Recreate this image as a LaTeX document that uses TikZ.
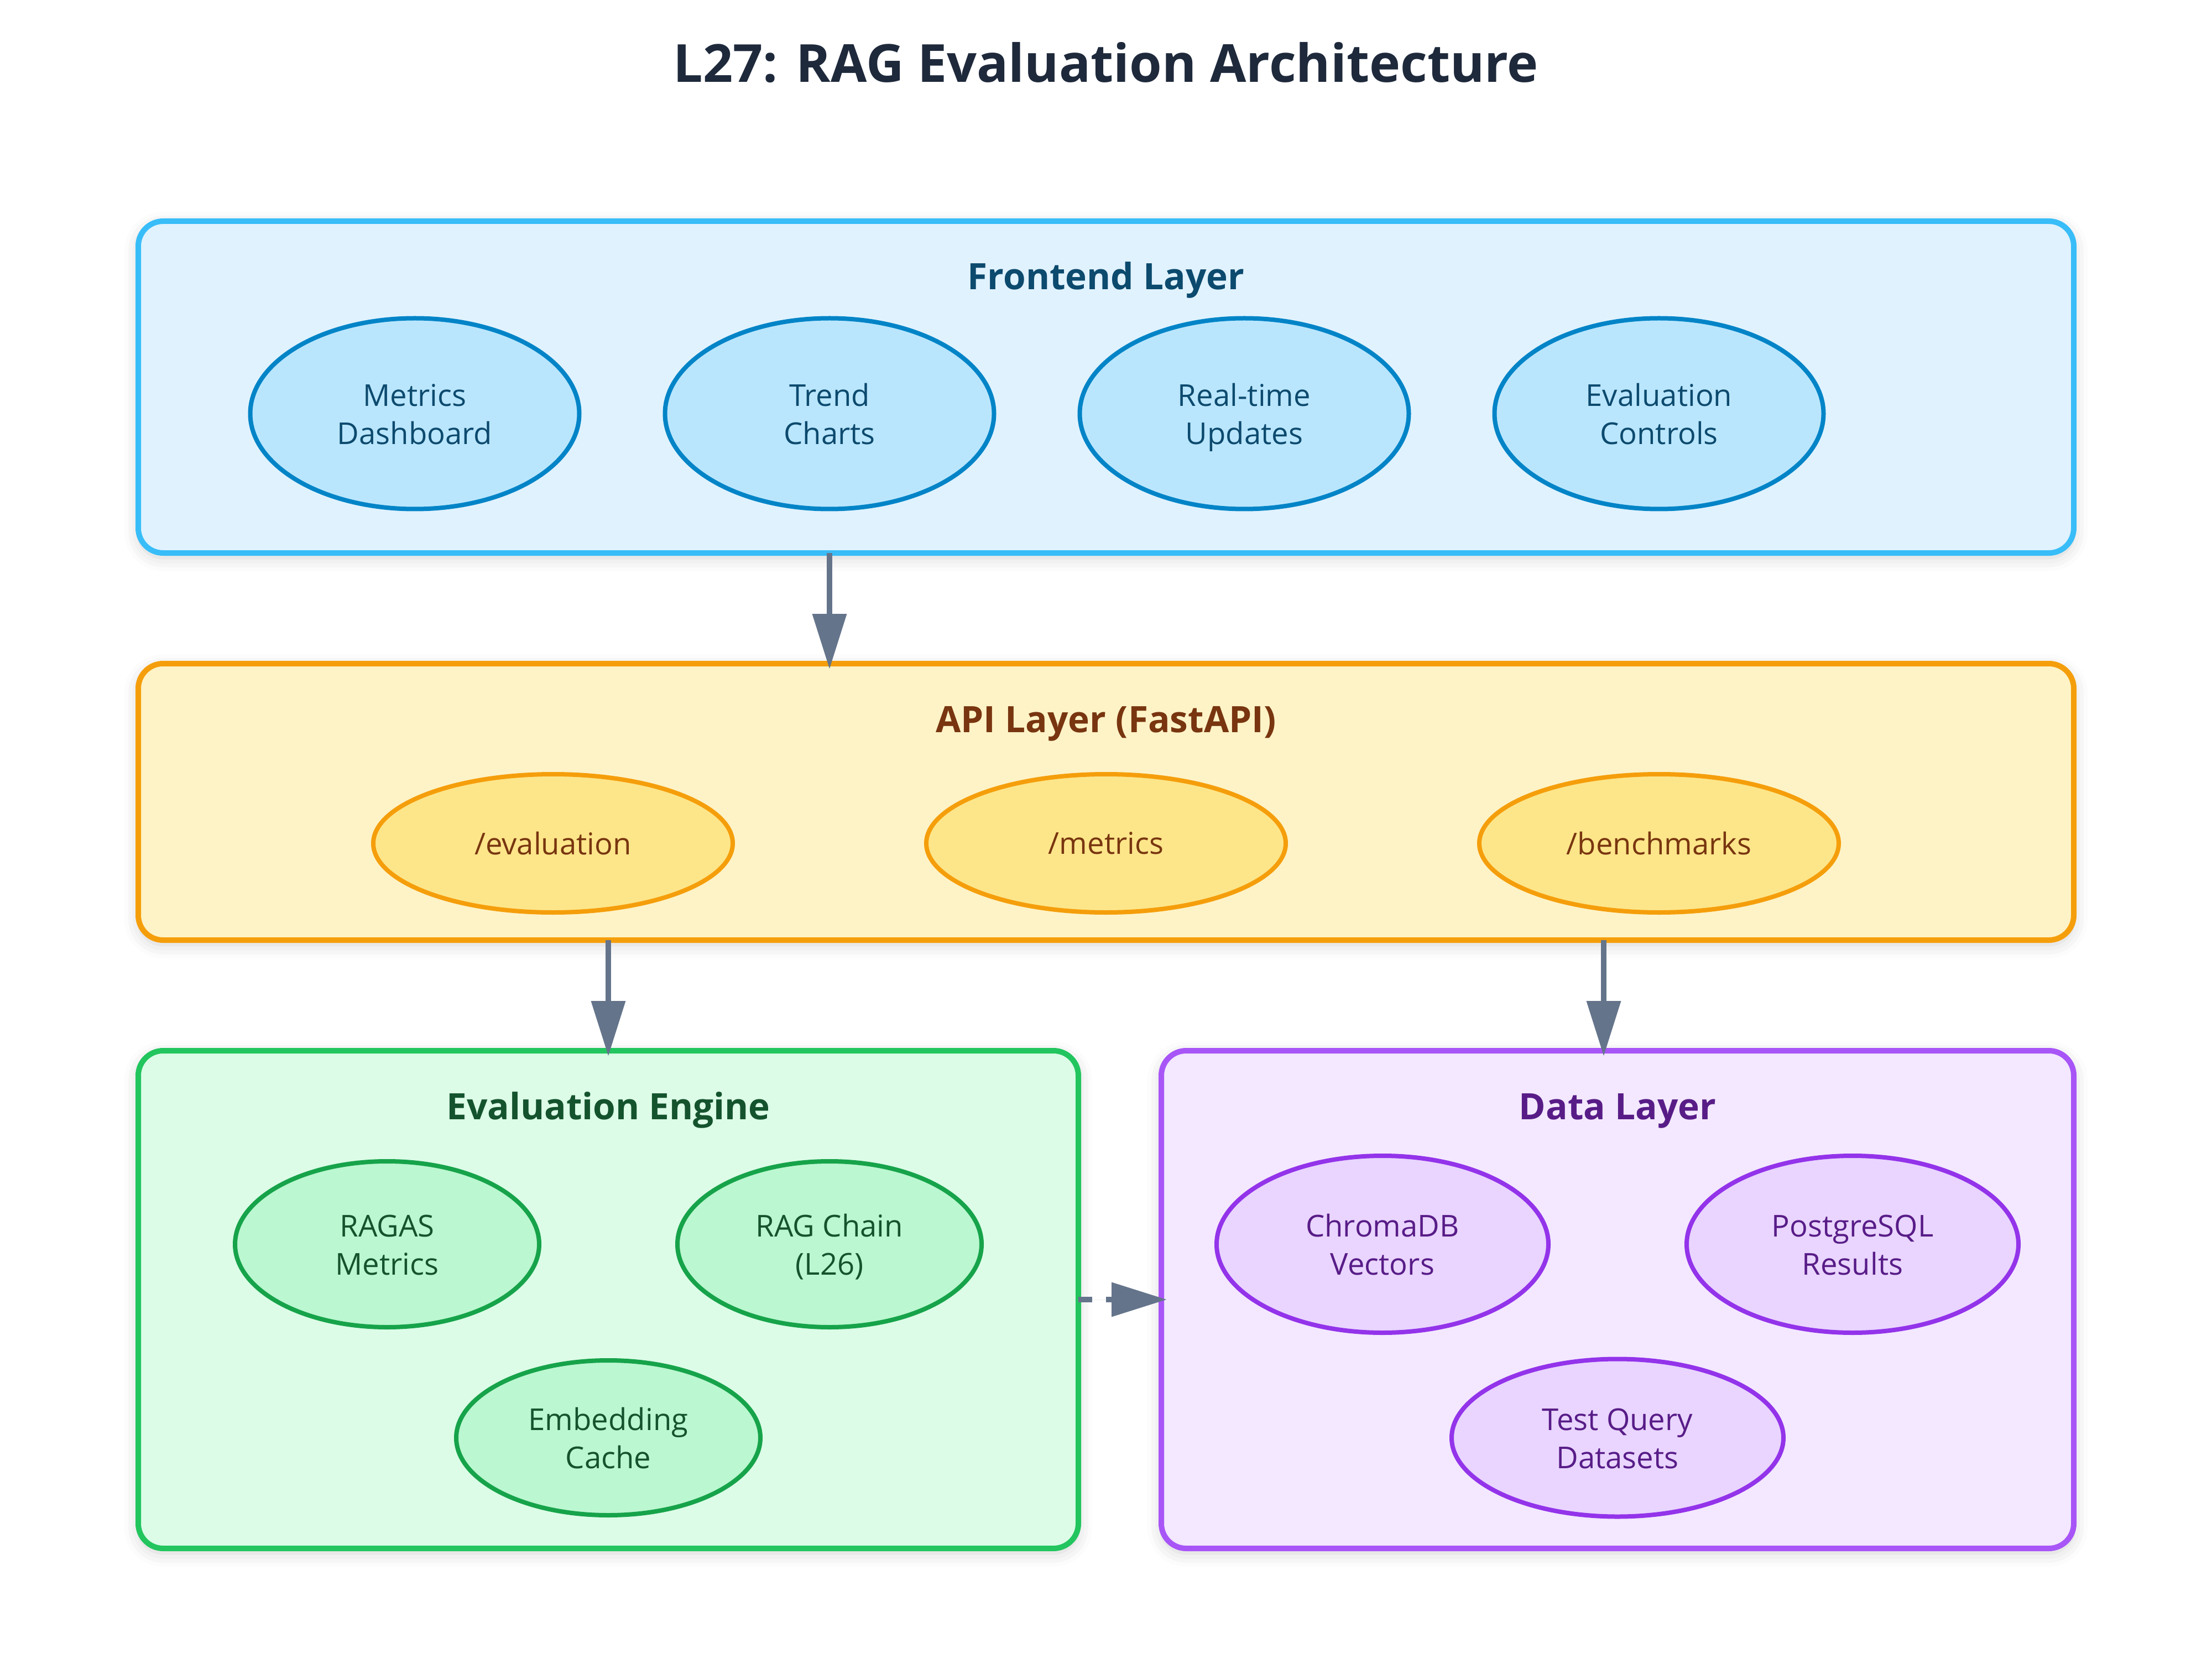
\documentclass[tikz,border=0pt]{standalone}
\usepackage{fontspec}
\setmainfont{Open Sans}
\usepackage{tikz}
\usetikzlibrary{
  shapes.geometric,
  arrows.meta,
  positioning,
  shadows.blur
}
\definecolor{titlecol}{HTML}{1E293B}
\definecolor{arrowgray}{HTML}{64748B}
% frontend
\definecolor{frontbg}{HTML}{E0F2FE}
\definecolor{frontline}{HTML}{38BDF8}
\definecolor{frontnode}{HTML}{BAE6FD}
\definecolor{frontedge}{HTML}{0284C7}
\definecolor{fronttext}{HTML}{0C4A6E}
% api
\definecolor{apibg}{HTML}{FEF3C7}
\definecolor{apiline}{HTML}{F59E0B}
\definecolor{apinode}{HTML}{FDE68A}
\definecolor{apiedge}{HTML}{F59E0B}
\definecolor{apitext}{HTML}{78350F}
% evaluation engine
\definecolor{enginebg}{HTML}{DCFCE7}
\definecolor{engineline}{HTML}{22C55E}
\definecolor{enginenode}{HTML}{BBF7D0}
\definecolor{engineedge}{HTML}{16A34A}
\definecolor{enginetext}{HTML}{14532D}
% data
\definecolor{databg}{HTML}{F3E8FF}
\definecolor{dataline}{HTML}{A855F7}
\definecolor{datanode}{HTML}{E9D5FF}
\definecolor{dataedge}{HTML}{9333EA}
\definecolor{datatext}{HTML}{581C87}
% two text lines with even line boxes
\setlength{\lineskiplimit}{-100pt}
\newcommand{\linestrut}{\rule[-4.5pt]{0pt}{21.1pt}}
\newcommand{\twolines}[2]{\linestrut#1\\\linestrut#2}

\begin{document}
\begin{tikzpicture}[
  layer/.style={rectangle, rounded corners=0.45cm, draw=#1line, fill=#1bg, line width=0.1cm, outer sep=0pt,
    blur shadow={shadow xshift=0pt, shadow yshift=-0.08cm, shadow blur radius=0.25cm, shadow opacity=18}},
  head/.style={anchor=base, text=#1text, font=\bfseries\fontsize{18.7}{22}\selectfont},
  comp/.style={ellipse, draw=#1edge, fill=#1node, text=#1text, line width=0.08cm, inner sep=0pt, align=center,
    font=\fontsize{15.5}{19.6}\selectfont},
  arrow/.style={-{Triangle[length=1cm, width=0.6cm]}, line width=0.1cm, draw=arrowgray, fill=arrowgray, shorten >=-0.1cm}
]
\useasboundingbox (0,0) rectangle (40,-30);

% Title
\node[text=titlecol, font=\bfseries\fontsize{27}{32}\selectfont, anchor=base] (title) at (20,-1.49) {L27: RAG Evaluation Architecture};

% Layers
\node[layer=front, minimum width=35cm, minimum height=6cm] (frontend) at (20,-7) {};
\node[layer=api, minimum width=35cm, minimum height=5cm] (api) at (20,-14.5) {};
\node[layer=engine, minimum width=17cm, minimum height=9cm] (engine) at (11,-23.5) {};
\node[layer=data, minimum width=16.5cm, minimum height=9cm] (data) at (29.25,-23.5) {};

% Layer titles
\node[head=front] (fronthead) at ([yshift=-1.24cm]frontend.north) {Frontend Layer};
\node[head=api] (apihead) at ([yshift=-1.24cm]api.north) {API Layer (FastAPI)};
\node[head=engine] (enginehead) at ([yshift=-1.24cm]engine.north) {Evaluation Engine};
\node[head=data] (datahead) at ([yshift=-1.24cm]data.north) {Data Layer};

% Frontend components
\node[comp=front, minimum width=5.95cm, minimum height=3.45cm] (dashboard) at (7.5,-7.48) {\twolines{Metrics}{Dashboard}};
\node[comp=front, minimum width=5.95cm, minimum height=3.45cm] (charts) at (15,-7.48) {\twolines{Trend}{Charts}};
\node[comp=front, minimum width=5.95cm, minimum height=3.45cm] (updates) at (22.5,-7.48) {\twolines{Real-time}{Updates}};
\node[comp=front, minimum width=5.95cm, minimum height=3.45cm] (controls) at (30,-7.48) {\twolines{Evaluation}{Controls}};

% API endpoints
\node[comp=api, minimum width=6.5cm, minimum height=2.5cm] (evalep) at (10,-15.25) {/evaluation};
\node[comp=api, minimum width=6.5cm, minimum height=2.5cm] (metricsep) at (20,-15.25) {/metrics};
\node[comp=api, minimum width=6.5cm, minimum height=2.5cm] (benchep) at (30,-15.25) {/benchmarks};

% Engine components
\node[comp=engine, minimum width=5.5cm, minimum height=3cm] (ragas) at (7,-22.5) {\twolines{RAGAS}{Metrics}};
\node[comp=engine, minimum width=5.5cm, minimum height=3cm] (chain) at (15,-22.5) {\twolines{RAG Chain}{(L26)}};
\node[comp=engine, minimum width=5.5cm, minimum height=2.8cm] (cache) at (11,-26) {\twolines{Embedding}{Cache}};

% Data components
\node[comp=data, minimum width=6cm, minimum height=3.2cm] (chroma) at (25,-22.5) {\twolines{ChromaDB}{Vectors}};
\node[comp=data, minimum width=6cm, minimum height=3.2cm] (postgres) at (33.5,-22.5) {\twolines{PostgreSQL}{Results}};
\node[comp=data, minimum width=6cm, minimum height=2.85cm] (testsets) at (29.25,-26) {\twolines{Test Query}{Datasets}};

% Connections
\draw[arrow] (charts |- frontend.south) -- (charts |- api.north);
\draw[arrow] (engine.north |- api.south) -- (engine.north);
\draw[arrow] ([xshift=-0.25cm]data.north |- api.south) -- ([xshift=-0.25cm]data.north);
\draw[arrow, dash pattern=on 0.25cm off 0.25cm] (engine.east) -- (data.west);

\end{tikzpicture}
\end{document}
